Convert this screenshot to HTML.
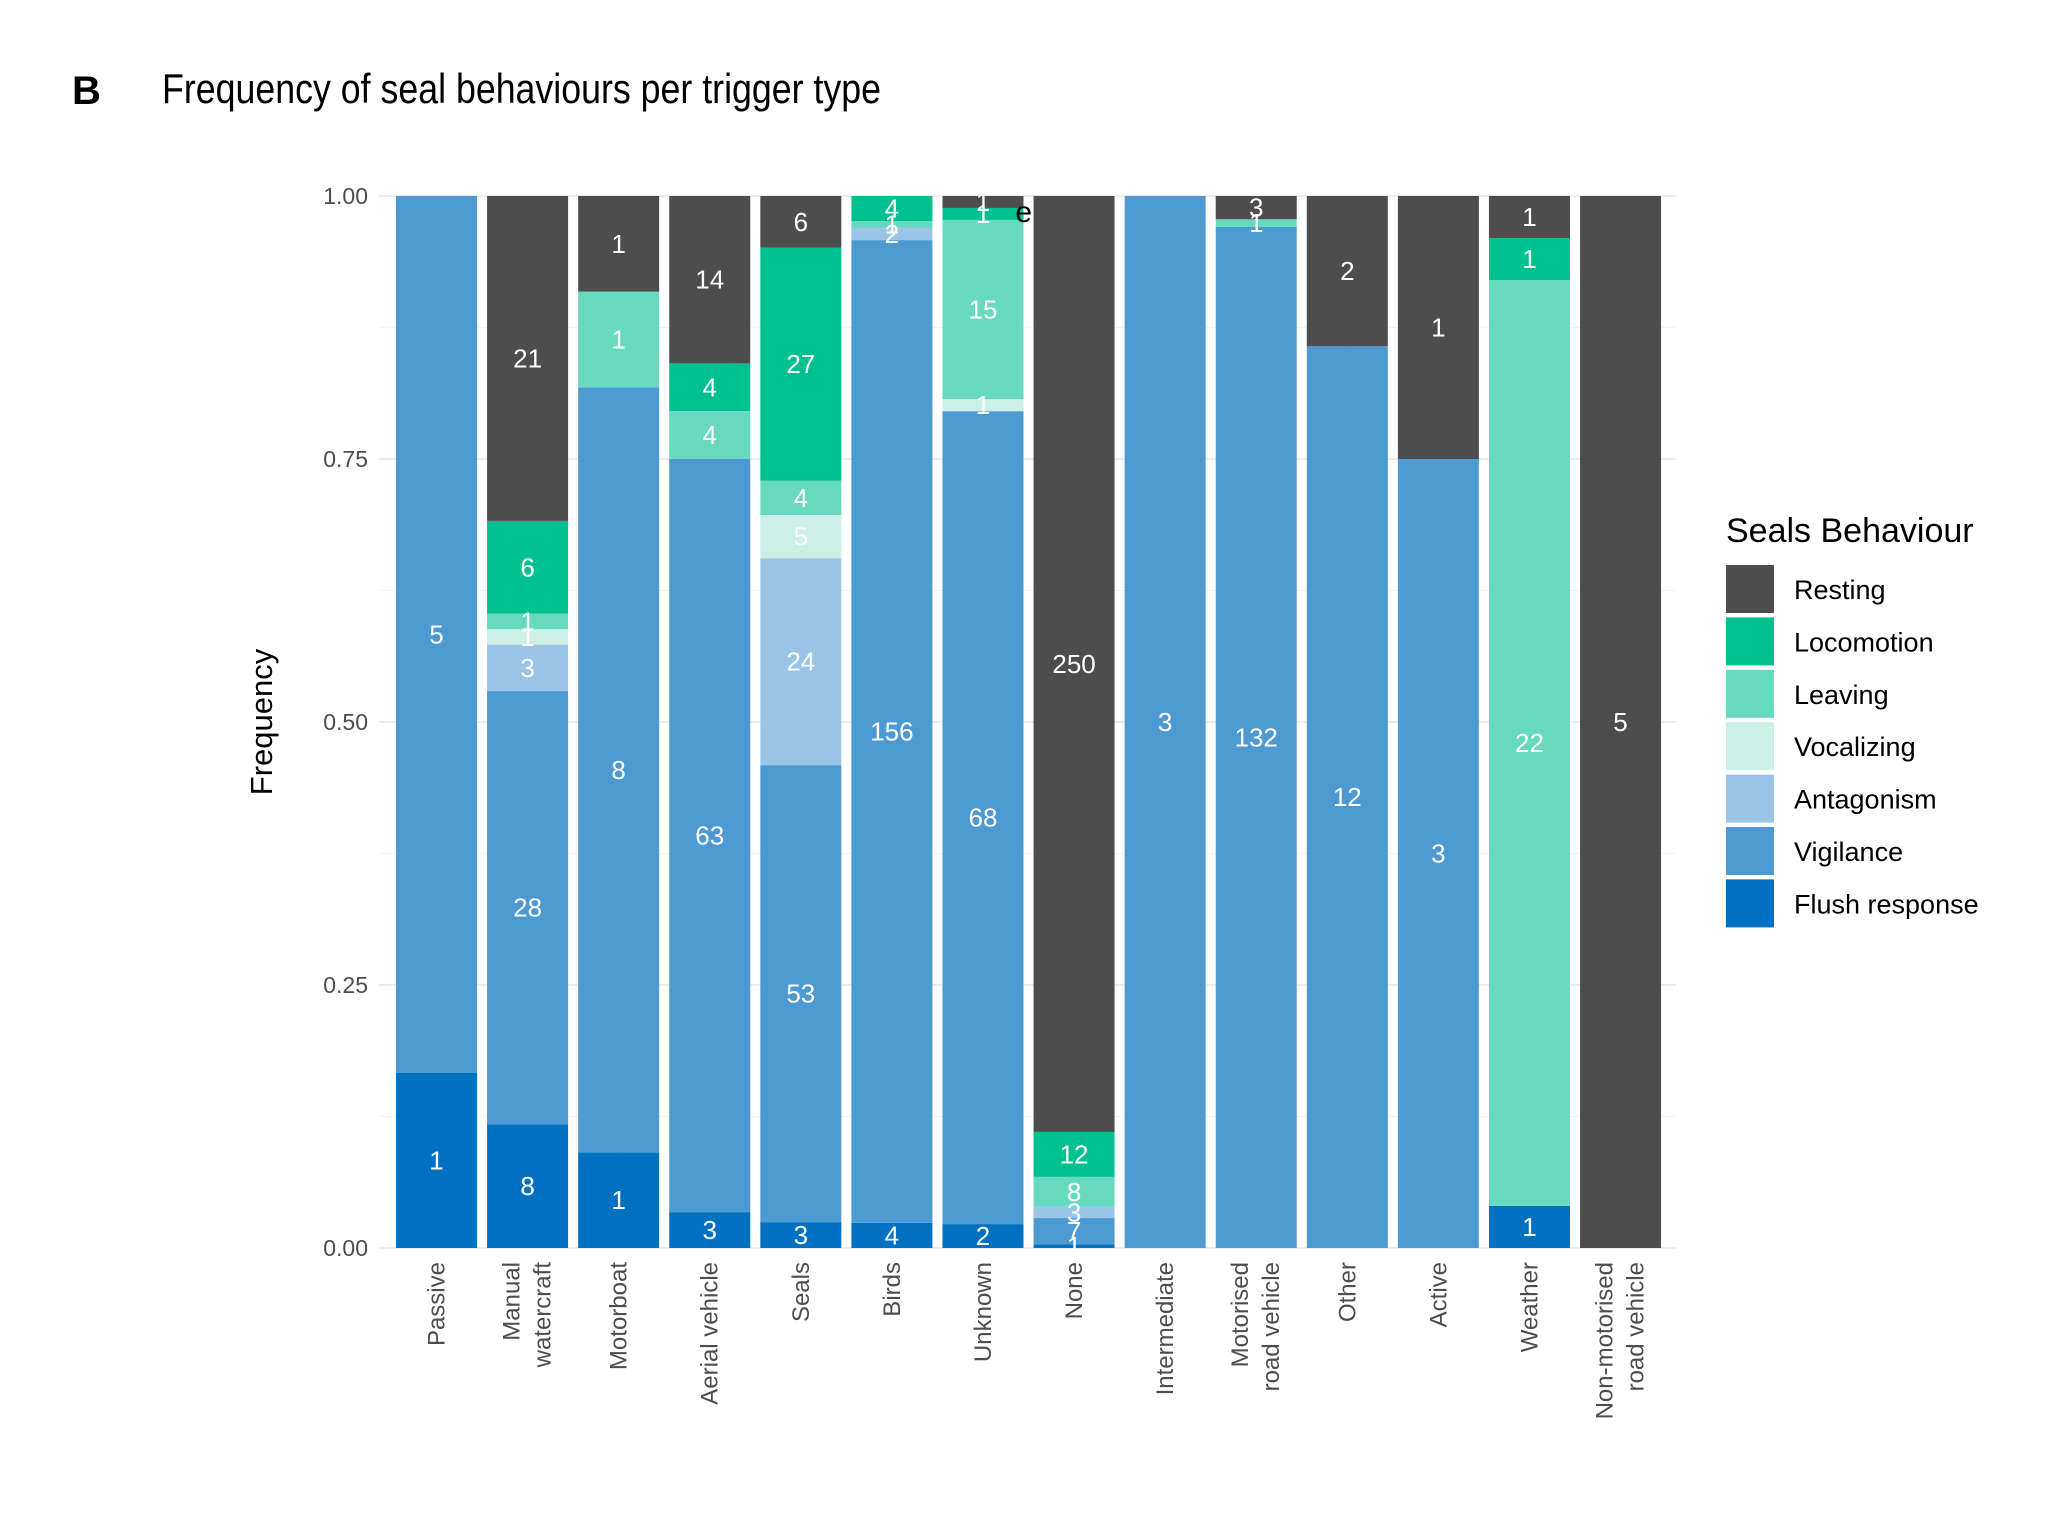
<!DOCTYPE html>
<html><head><meta charset="utf-8"><style>
html,body{margin:0;padding:0;background:#fff;}
svg{display:block;font-family:"Liberation Sans",Arial,sans-serif;}
</style></head><body>
<svg id="chart" width="2048" height="1514" viewBox="0 0 2048 1514" xmlns="http://www.w3.org/2000/svg">
<text x="72" y="104" font-size="40" font-weight="bold" fill="#000">B</text>
<text x="162" y="103" font-size="42" fill="#000" textLength="719" lengthAdjust="spacingAndGlyphs">Frequency of seal behaviours per trigger type</text>
<g id="grid"></g>
<g id="bars"></g>
<g id="yaxis"></g>
<g id="xaxis"></g>
<text transform="translate(272,722) rotate(-90)" text-anchor="middle" font-size="31" fill="#000">Frequency</text>
<g id="legend">
<text x="1726" y="542" font-size="34" fill="#000">Seals Behaviour</text>
</g>
</svg>
<script>
const categories = [["Passive"],["Manual","watercraft"],["Motorboat"],["Aerial vehicle"],["Seals"],["Birds"],["Unknown"],["None"],["Intermediate"],["Motorised","road vehicle"],["Other"],["Active"],["Weather"],["Non-motorised","road vehicle"]];
const seriesNames = ["Flush response","Vigilance","Antagonism","Vocalizing","Leaving","Locomotion","Resting"];
const flush      = [1,8,1,3,3,4,2,1,0,0,0,0,1,0];
const vigilance  = [5,28,8,63,53,156,68,7,3,132,12,3,0,0];
const antagonism = [0,3,0,0,24,2,0,3,0,0,0,0,0,0];
const vocalizing = [0,1,0,0,5,0,1,0,0,0,0,0,0,0];
const leaving    = [0,1,1,4,4,1,15,8,0,1,0,0,22,0];
const locomotion = [0,6,0,4,27,4,1,12,0,0,0,0,1,0];
const resting    = [0,21,1,14,6,0,1,250,0,3,2,1,1,5];
const yTicks = ["0.00","0.25","0.50","0.75","1.00"];
const series = [flush,vigilance,antagonism,vocalizing,leaving,locomotion,resting];
const colors = ["#0070c0","#4d9ad3","#9bc5e6","#ccf0e6","#66d9bf","#00c08f","#4d4d4d"];
const NS="http://www.w3.org/2000/svg";
const top0=196, bot0=1248, x0=396, pitch=91.08, bw=81;
const y = v => bot0 - v*(bot0-top0);
const xc = i => x0 + i*pitch + bw/2;
function mk(tag, attrs, parent){const e=document.createElementNS(NS,tag);for(const k in attrs)e.setAttribute(k,attrs[k]);parent.appendChild(e);return e;}
const grid=document.getElementById('grid'), bars=document.getElementById('bars'), ya=document.getElementById('yaxis'), xa=document.getElementById('xaxis'), lg=document.getElementById('legend');
for(let k=0;k<=8;k++){
  const l=mk('line',{x1:379,x2:1676,y1:y(k/8),y2:y(k/8),stroke:k%2?'#f3f3f3':'#e6e6e6','stroke-width':k%2?1:1.5},grid);
  
  
}
for(let i=0;i<categories.length;i++){
  const l=mk('line',{x1:xc(i),x2:xc(i),y1:top0,y2:bot0,stroke:'#eeeeee','stroke-width':1.5},grid);
  
  
}
yTicks.forEach(t=>{
  const e=mk('text',{x:368,y:y(parseFloat(t))+8,'text-anchor':'end','font-size':23,fill:'#4d4d4d'},ya);
  e.textContent=t;
  
  
});
const labels=[];
categories.forEach((cat,i)=>{
  let total=0; series.forEach(s=>total+=s[i]);
  let cum=0;
  series.forEach((s,j)=>{
    const v=s[i]; if(!v) return;
    const y1=y((cum+v)/total), y2=y(cum/total);
    const r=mk('rect',{x:x0+i*pitch,y:y1,width:bw,height:y2-y1,fill:colors[j]},bars);
    
    
    labels.push([xc(i),(y1+y2)/2,v]);
    cum+=v;
  });
  const tx=xc(i), ty=1262;
  const g=mk('text',{transform:`translate(${tx},${ty}) rotate(-90)`,'text-anchor':'end','font-size':24,fill:'#4d4d4d'},xa);
  
  
  cat.forEach((line,k)=>{
    const off = cat.length===1 ? 8 : (k===0 ? -8 : 23);
    const t=mk('tspan',{x:0,y:off},g); t.textContent=line;
  });
});
labels.forEach(([lx,ly,v])=>{
  const t=mk('text',{x:lx,y:ly+9,'text-anchor':'middle','font-size':26,fill:'#fff'},bars);
  t.textContent=v;
  
  
});
const st=mk('text',{x:1032,y:222,'text-anchor':'end','font-size':30,fill:'#000'},bars);
st.textContent='e';


for(let j=0;j<7;j++){
  const si=6-j, ky=565+j*52.4;
  const r=mk('rect',{x:1726,y:ky,width:48,height:48,fill:colors[si]},lg);
  
  
  const t=mk('text',{x:1794,y:ky+34,'font-size':27,fill:'#000'},lg);
  t.textContent=seriesNames[si];
  
  
}
</script>
</body></html>
